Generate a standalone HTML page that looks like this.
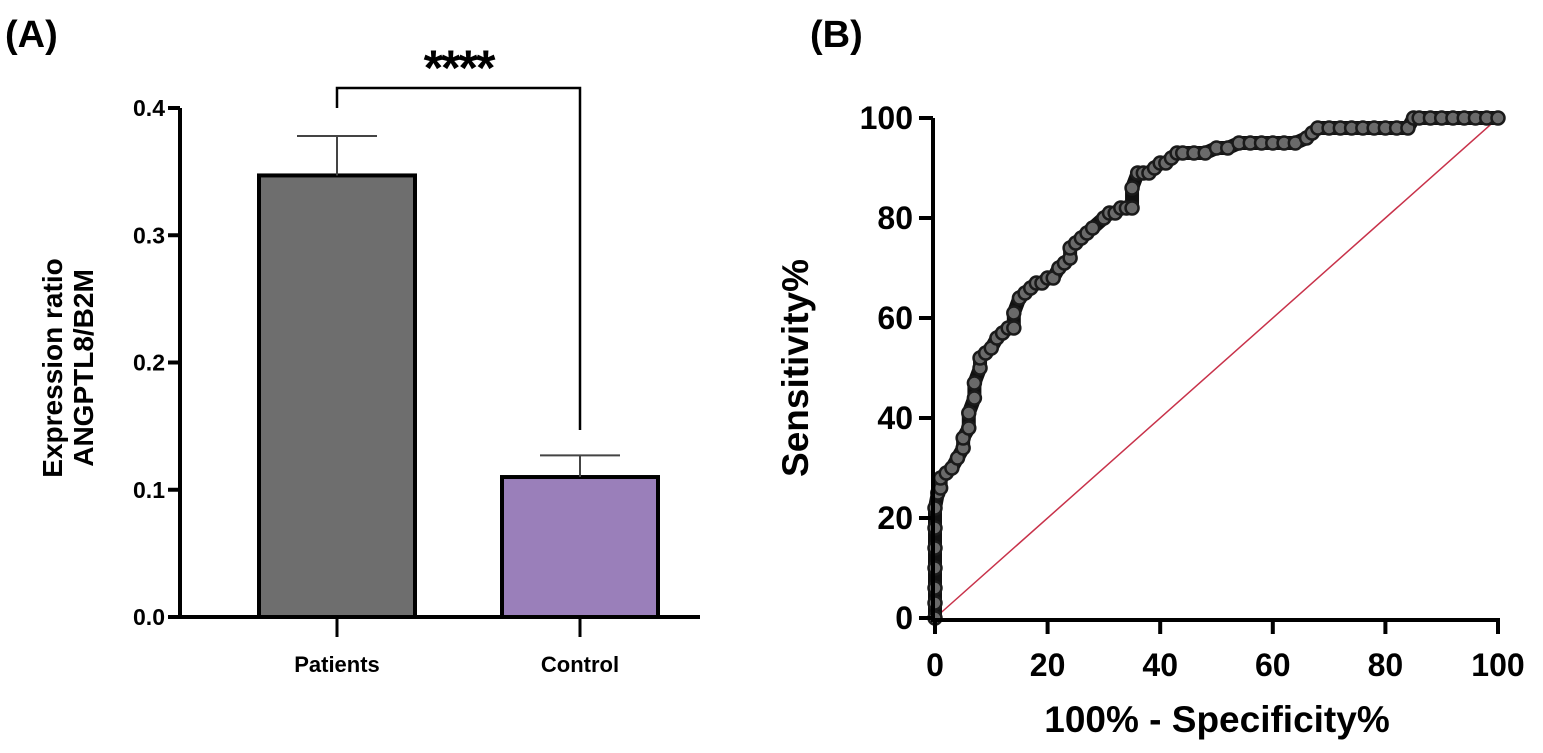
<!DOCTYPE html>
<html><head><meta charset="utf-8"><style>
html,body{margin:0;padding:0;background:#fff;}
svg{display:block;}
text{font-family:"Liberation Sans",sans-serif;font-weight:bold;fill:#000;}
</style></head><body>
<svg id="fig" width="1543" height="753" viewBox="0 0 1543 753">
<g id="A"></g>
<g id="B"></g>
</svg>
<script>
// Panel A data
const barCats = ["Patients", "Control"];
const barValues = [0.347, 0.110];
const barErrors = [0.031, 0.017];
const barTicks = [0.0, 0.1, 0.2, 0.3, 0.4];
const sigLabel = "****";
// Panel B data
const rocFpr = [0,0,0,0,0,0,0,0.5,1,1,2,3,4,5,5,6,6,7,7,8,8,9,10,11,12,13,14,14,15,16,17,18,19,20,21,22,23,24,24,25,26,27,28,30,31,32,33,34,35,35,36,37,38,39,40,41,42,43,44,46,48,50,52,54,56,58,60,62,64,66,67,68,70,72,74,76,78,80,82,84,85,86,88,90,92,94,96,98,100];
const rocTpr = [0,3,6,10,14,18,22,25,26,28,29,30,32,34,36,38,41,44,47,50,52,53,54,56,57,58,58,61,64,65,66,67,67,68,68,70,71,72,74,75,76,77,78,80,81,81,82,82,82,86,89,89,89,90,91,91,92,93,93,93,93,94,94,95,95,95,95,95,95,96,97,98,98,98,98,98,98,98,98,98,100,100,100,100,100,100,100,100,100];
const rocTicks = [0,20,40,60,80,100];

const NS="http://www.w3.org/2000/svg";
function mk(parent,tag,attrs,txt){const e=document.createElementNS(NS,tag);for(const k in attrs)e.setAttribute(k,attrs[k]);if(txt!==undefined)e.textContent=txt;parent.appendChild(e);return e;}

// ---- Panel A ----
const A=document.getElementById('A');
const ay0=617, ay1=108, axX=180;
const yA=v=>ay0-(v-0)/(0.4)*(ay0-ay1);
const barCenters=[337,580], barW=156;
let t=mk(A,'text',{x:5,y:47,'font-size':38},'(A)');


barCats.forEach((c,i)=>{
  const cx=barCenters[i];
  const r=mk(A,'rect',{x:cx-barW/2,y:yA(barValues[i]),width:barW,height:ay0-yA(barValues[i]),fill:i==0?'#6e6e6e':'#9a7fba',stroke:'#000','stroke-width':4});
  
  
  const e=mk(A,'path',{d:`M${cx},${yA(barValues[i])} V${yA(barValues[i]+barErrors[i])} M${cx-40},${yA(barValues[i]+barErrors[i])} H${cx+40}`,stroke:'#444','stroke-width':2,fill:'none'});
  
  
  mk(A,'line',{x1:cx,x2:cx,y1:ay0,y2:637,stroke:'#000','stroke-width':3});
  const l=mk(A,'text',{x:cx,y:672,'font-size':22,'text-anchor':'middle'},c);
  
  
});
let ax=mk(A,'path',{d:`M${axX},${ay1} V${ay0} H700`,stroke:'#000','stroke-width':4,fill:'none'});


barTicks.forEach(v=>{
  mk(A,'line',{x1:axX-12,x2:axX,y1:yA(v),y2:yA(v),stroke:'#000','stroke-width':4});
  const tl=mk(A,'text',{x:axX-15,y:yA(v)+8,'font-size':23,'text-anchor':'end'},v.toFixed(1));
  
  
});
let yt=mk(A,'text',{transform:'translate(62,368) rotate(-90)','font-size':28,'text-anchor':'middle'});


mk(yt,'tspan',{x:0,dy:0},'Expression ratio');
mk(yt,'tspan',{x:0,dy:31},'ANGPTL8/B2M');
let br=mk(A,'path',{d:`M${barCenters[0]},108 V88 H${barCenters[1]} V430`,stroke:'#000','stroke-width':2.5,fill:'none'});


let sg=mk(A,'text',{x:(barCenters[0]+barCenters[1])/2,y:85,'font-size':50,'text-anchor':'middle','letter-spacing':'-2'},sigLabel);



// ---- Panel B ----
const B=document.getElementById('B');
const bx0=935,bx1=1498,by0=618,by1=118;
const xB=v=>bx0+v/100*(bx1-bx0);
const yB=v=>by0-v/100*(by0-by1);
t=mk(B,'text',{x:810,y:47,'font-size':38},'(B)');


let diag=mk(B,'line',{x1:xB(0),y1:yB(0),x2:xB(100),y2:yB(100),stroke:'#c8324a','stroke-width':1.5});


let d='';
rocFpr.forEach((f,i)=>{d+=(i?'L':'M')+xB(f)+','+yB(rocTpr[i])+' ';});
let rl=mk(B,'path',{d:d,stroke:'#111','stroke-width':14,fill:'none','stroke-linejoin':'round','stroke-linecap':'round'});


rocFpr.forEach((f,i)=>{
  const c=mk(B,'circle',{cx:xB(f),cy:yB(rocTpr[i]),r:6.5,fill:'#6a6a6a',stroke:'#1a1a1a','stroke-width':2.5});
  
  
});
let bax=mk(B,'path',{d:`M${bx0-2},${by1} V${by0+2} H${bx1+2}`,stroke:'#000','stroke-width':4,fill:'none'});


rocTicks.forEach(v=>{
  mk(B,'line',{x1:bx0-16,x2:bx0-2,y1:yB(v),y2:yB(v),stroke:'#000','stroke-width':4});
  const l=mk(B,'text',{x:bx0-22,y:yB(v)+11,'font-size':32,'text-anchor':'end'},v);
  
  
  mk(B,'line',{x1:xB(v),x2:xB(v),y1:by0,y2:by0+16,stroke:'#000','stroke-width':4});
  const m=mk(B,'text',{x:xB(v),y:676,'font-size':32,'text-anchor':'middle'},v);
  
  
});
let xt=mk(B,'text',{x:1217,y:732,'font-size':37,'text-anchor':'middle'},'100% - Specificity%');


let yt2=mk(B,'text',{transform:'translate(808,368) rotate(-90)','font-size':37,'text-anchor':'middle'},'Sensitivity%');


</script>
</body></html>
